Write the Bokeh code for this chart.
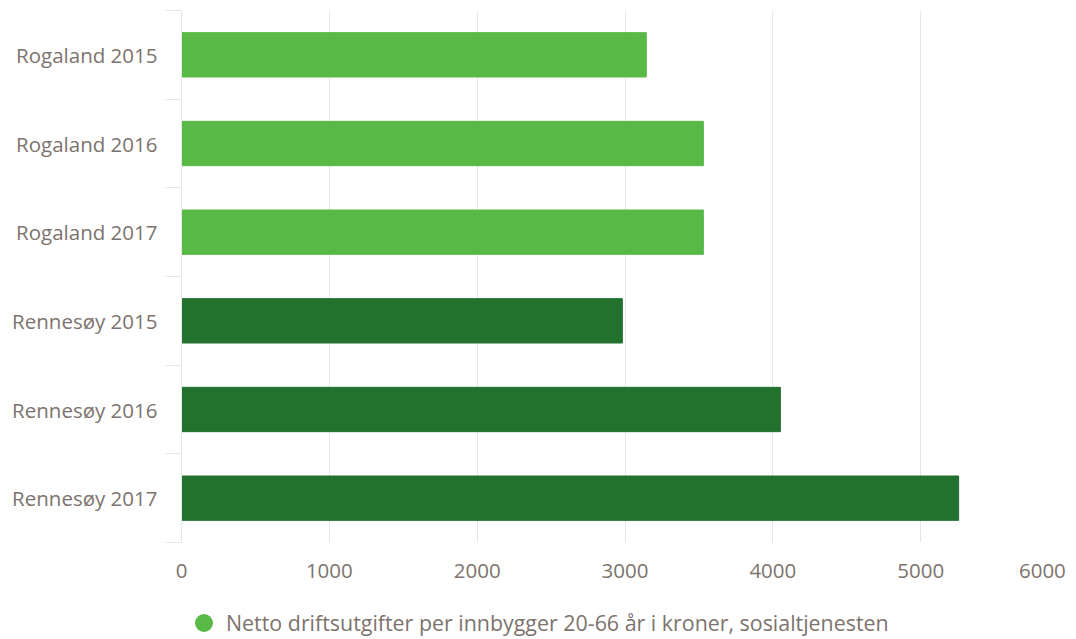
import numpy as np
from bokeh.plotting import figure
from bokeh.layouts import column
from bokeh.models import (Range1d, FixedTicker, Legend, LegendItem, ColumnDataSource)
from bokeh.embed import file_html
from bokeh.resources import INLINE

categories = ["Rogaland 2015", "Rogaland 2016", "Rogaland 2017",
              "Rennesøy 2015", "Rennesøy 2016", "Rennesøy 2017"]
values = [3144, 3530, 3530, 2982, 4051, 5257]
bar_colors = ["#58b947", "#58b947", "#58b947", "#22712f", "#22712f", "#22712f"]
x_ticks = [0, 1000, 2000, 3000, 4000, 5000, 6000]
series_name = "Netto driftsutgifter per innbygger 20-66 år i kroner, sosialtjenesten"

FONT = "Open Sans"
LABEL_COLOR = "#7d736d"
FS = "20.5px"

pos = list(np.arange(len(categories)) + 0.5)
src = ColumnDataSource(dict(y=pos, right=values, color=bar_colors, cat=categories))

p = figure(width=1076, height=600, output_backend="svg", toolbar_location=None,
           x_range=Range1d(0, 6000), y_range=Range1d(len(categories), 0),
           min_border_left=181, min_border_top=10, min_border_right=8, min_border_bottom=58)
p.outline_line_color = None
p.background_fill_color = "white"
p.border_fill_color = "white"

p.hbar(y="y", right="right", left=0, height=0.5, color="color", source=src)

# y axis: labels at centres, ticks at boundaries
ya = p.yaxis[0]
ya.ticker = FixedTicker(ticks=pos, minor_ticks=list(range(len(categories) + 1)))
ya.major_label_overrides = {float(v): c for v, c in zip(pos, categories)}
ya.major_tick_line_color = None
ya.major_tick_out = 0
ya.major_tick_in = 0
ya.minor_tick_out = 16
ya.minor_tick_in = 0
ya.minor_tick_line_color = "#e6e6e6"
ya.axis_line_color = "#e6e6e6"
ya.major_label_standoff = 8
ya.major_label_text_font = FONT
ya.major_label_text_font_size = FS
ya.major_label_text_color = LABEL_COLOR

xa = p.xaxis[0]
xa.ticker = FixedTicker(ticks=x_ticks)
xa.major_label_overrides = {6000: "6000" + "\u00a0" * 2}
xa.axis_line_color = None
xa.major_tick_line_color = None
xa.minor_tick_line_color = None
xa.major_label_standoff = 7
xa.major_label_text_font = FONT
xa.major_label_text_font_size = FS
xa.major_label_text_color = LABEL_COLOR

p.ygrid.grid_line_color = None
p.xgrid.grid_line_color = "#e6e6e6"
p.xgrid.grid_line_width = 1

# legend strip below the chart
lg = figure(width=1076, height=39, output_backend="svg", toolbar_location=None,
            x_range=Range1d(0, 1), y_range=Range1d(0, 1),
            x_axis_location=None, y_axis_location=None,
            min_border_left=0, min_border_right=0, min_border_top=0, min_border_bottom=0)
lg.outline_line_color = None
lg.xgrid.visible = False
lg.ygrid.visible = False
leg_r = lg.scatter(x="right", y="y", source=src, marker="circle", size=0,
                   fill_color="#58b947", line_color=None)
legend = Legend(items=[LegendItem(label=series_name, renderers=[leg_r])],
                orientation="horizontal", location=(0, -6),
                glyph_width=45, glyph_height=45, label_standoff=0,
                padding=0, margin=0, spacing=0,
                border_line_color=None, background_fill_alpha=0,
                label_text_font=FONT, label_text_font_size="21.4px",
                label_text_color=LABEL_COLOR)
lg.add_layout(legend, "center")

layout = column(p, lg, spacing=0)
open("out.html", "w").write(file_html(layout, INLINE))
